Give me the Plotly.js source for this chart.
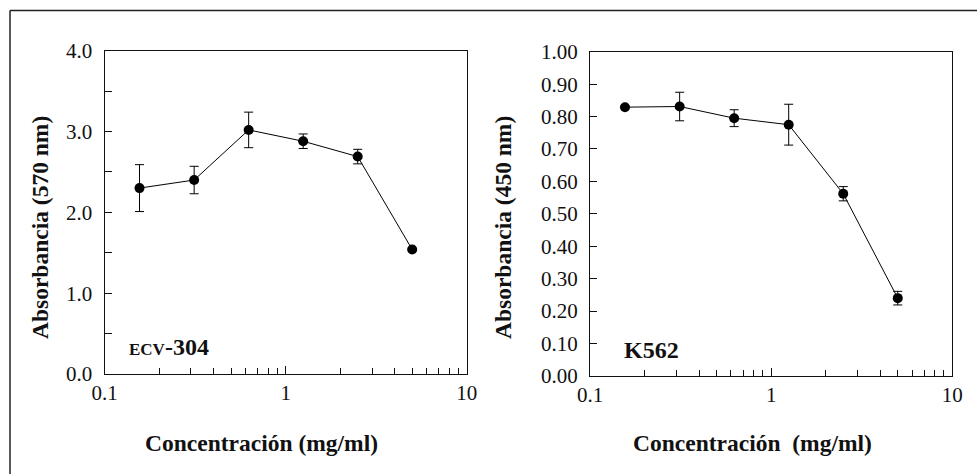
<!DOCTYPE html>
<html>
<head>
<meta charset="utf-8">
<script src="https://cdn.plot.ly/plotly-3.0.1.min.js"></script>
<style>html,body{margin:0;padding:0;background:#fff;}#chart{width:977px;height:474px;}</style>
</head>
<body>
<div id="chart"></div>
<script>
// Data
const conc = [0.156, 0.3125, 0.625, 1.25, 2.5, 5];
const ecv304 = [2.30, 2.40, 3.02, 2.88, 2.69, 1.54];
const ecv304Err = [0.29, 0.17, 0.22, 0.09, 0.09, 0.0];
const k562 = [0.829, 0.831, 0.795, 0.775, 0.562, 0.240];
const k562Err = [0.0, 0.044, 0.026, 0.063, 0.022, 0.021];

const xMajorVals = [0.1, 1, 10];
const xMajorText = ['0.1', '1', '10'];
const xMinorVals = [0.2,0.3,0.4,0.5,0.6,0.7,0.8,0.9,2,3,4,5,6,7,8,9];
const yLeftVals = [0,0.5,1,1.5,2,2.5,3,3.5,4];
const yLeftText = ['0.0','','1.0','','2.0','','3.0','','4.0'];
const yRightVals = [0,0.1,0.2,0.3,0.4,0.5,0.6,0.7,0.8,0.9,1.0];
const yRightText = ['0.00','0.10','0.20','0.30','0.40','0.50','0.60','0.70','0.80','0.90','1.00'];

const xTitleLeft = 'Concentración (mg/ml)';
const xTitleRight = 'Concentración  (mg/ml)';
const yTitleLeft = 'Absorbancia (570 nm)';
const yTitleRight = 'Absorbancia (450 nm)';

const FONT = '"Liberation Serif", "DejaVu Serif", serif';
const TITLE_FONT = {family: FONT, size: 23.5, color: '#111', weight: 'bold'};

function makeTrace(y, err, xa, ya) {
  return {
    x: conc, y: y, xaxis: xa, yaxis: ya, type: 'scatter', mode: 'lines+markers',
    line: {color: '#000', width: 1},
    marker: {color: '#000', size: 10},
    error_y: {type: 'data', array: err, visible: true, color: '#000', thickness: 1, width: 4.5},
    showlegend: false, hoverinfo: 'skip'
  };
}

function makeX(domain, anchor) {
  return {
    type: 'log', range: [-1, 1], domain: domain, anchor: anchor,
    showline: true, linecolor: '#111', linewidth: 1, mirror: true,
    showgrid: false, zeroline: false,
    tickmode: 'array', tickvals: xMajorVals, ticktext: xMajorText,
    ticks: 'inside', ticklen: 8, tickcolor: '#111', tickwidth: 1,
    tickfont: {family: FONT, size: 21, color: '#111'},
    minor: {tickmode: 'array', tickvals: xMinorVals, ticks: 'inside', ticklen: 6, tickcolor: '#111', tickwidth: 1, showgrid: false}
  };
}

function makeY(domain, anchor, vals, text, range) {
  return {
    range: range, domain: domain, anchor: anchor,
    showline: true, linecolor: '#111', linewidth: 1, mirror: true,
    showgrid: false, zeroline: false,
    tickmode: 'array', tickvals: vals, ticktext: text,
    ticks: 'inside', ticklen: 7, tickcolor: '#111', tickwidth: 1,
    ticklabelstandoff: 7,
    tickfont: {family: FONT, size: 21, color: '#111'}
  };
}

const data = [
  makeTrace(ecv304, ecv304Err, 'x', 'y'),
  makeTrace(k562, k562Err, 'x2', 'y2')
];

function ann(text, x, y, angle, font, xanchor) {
  return {xref: 'paper', yref: 'paper', x: x / 977, y: 1 - y / 474, xanchor: xanchor || 'center', yanchor: 'middle',
          showarrow: false, text: text, textangle: angle, font: font};
}

const layout = {
  width: 977, height: 474,
  margin: {l: 0, r: 0, t: 0, b: 0},
  paper_bgcolor: '#fff', plot_bgcolor: '#fff',
  font: {family: FONT, color: '#111', size: 21},
  xaxis: makeX([0.1070, 0.4777], 'y'),
  yaxis: makeY([0.2110, 0.8930], 'x', yLeftVals, yLeftText, [0, 4]),
  xaxis2: makeX([0.6039, 0.9747], 'y2'),
  yaxis2: makeY([0.2068, 0.8909], 'x2', yRightVals, yRightText, [0, 1]),
  annotations: [
    ann(xTitleLeft, 261, 443, 0, TITLE_FONT),
    ann(xTitleRight, 752, 443, 0, TITLE_FONT),
    ann(yTitleLeft, 40, 228, -90, TITLE_FONT),
    ann(yTitleRight, 503, 228, -90, TITLE_FONT),
    ann('<b><span style="font-size:17px">ECV</span><span style="font-size:24px">-304</span></b>', 127, 347, 0,
        {family: FONT, size: 24, color: '#111'}, 'left'),
    ann('<b>K562</b>', 622, 350, 0, {family: FONT, size: 24, color: '#111'}, 'left')
  ],
  shapes: [
    {type: 'line', xref: 'paper', yref: 'paper', x0: 10/977, x1: 1.01, y0: 1 - 10.5/474, y1: 1 - 10.5/474, line: {color: '#222', width: 1.5}},
    {type: 'line', xref: 'paper', yref: 'paper', x0: 10/977, x1: 10/977, y0: 1 - 10.5/474, y1: -0.01, line: {color: '#222', width: 1.5}}
  ]
};

Plotly.newPlot('chart', data, layout, {displayModeBar: false});
</script>
</body>
</html>
